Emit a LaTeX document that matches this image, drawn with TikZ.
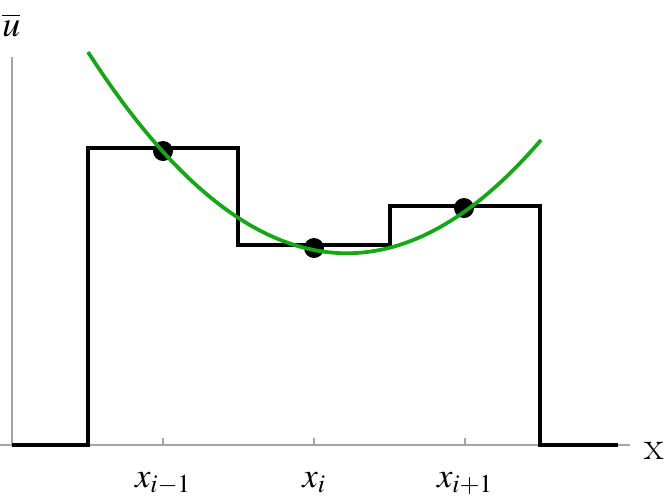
\documentclass[tikz,border=0pt]{standalone}
\usepackage{mathptmx}
\usepackage{xcolor}
\usepackage{tikz}
\usetikzlibrary{calc}
\usetikzlibrary{positioning}
\definecolor{curvegreen}{RGB}{20,168,20}
\definecolor{axisgray}{RGB}{165,165,165}
\tikzset{
	axisline/.style={draw=axisgray,line width=0.9pt},
	stepline/.style={draw=black,line width=3.2pt,line join=miter},
	fitcurve/.style={draw=curvegreen,line width=2.8pt},
	dot/.style={circle,fill=black,inner sep=0pt,minimum size=15pt},
	ticklabel/.style={anchor=base,inner sep=0pt,font=\fontsize{26}{30}\selectfont}
}

\begin{document}
\begin{tikzpicture}[x=0.75pt,y=-0.75pt]
		  \useasboundingbox (0,0) rectangle (664,497);
		  % axes
		  \coordinate (xstart) at (0,445);
		  \coordinate (origin) at (12,445);
		  \coordinate (xend) at (630,445);
		  \coordinate (yend) at (12,57);
		  \draw[axisline] (xstart) -- (xend);
		  \draw[axisline] (origin) -- (yend);
		  \node[anchor=base west,inner sep=0pt,font=\fontsize{30}{34}\selectfont] (xlab) at (644,459) {x};
		  \node[anchor=base west,inner sep=0pt,font=\fontsize{27}{30}\selectfont] (ulab) at (2,36) {$\overline{u}$};
		  % cell averages
		  \draw[stepline] (origin) -- (88,445) -- (88,148) -- (238,148) -- (238,245)
		  		-- (390,245) -- (390,206) -- (540,206) -- (540,445) -- (618,445);
		  \foreach \x /\alph/\name in {
		  		163/xa/{x_{i-1}},
		  		314/xb/{x_{i}},
		  		465/xc/{x_{i+1}}
		  }{
		  	\draw[axisline] (\x,445) -- (\x,438);
		  	\node[ticklabel] (\alph) at (\x,487) {$\name$};
		  }
		  \foreach \x /\y/\alph in {163/151/da, 314/248/db, 464/208/dc}{
		  	\node[dot] (\alph) at (\x,\y) {};
		  }
		  % reconstruction
		  \draw[fitcurve] plot[domain=88:541,samples=80,smooth]
		  		(\x,{250 - 30.04*((\x-314)/100)^2 + 19.72*((\x-314)/100)});
		 \end{tikzpicture}
\end{document}
